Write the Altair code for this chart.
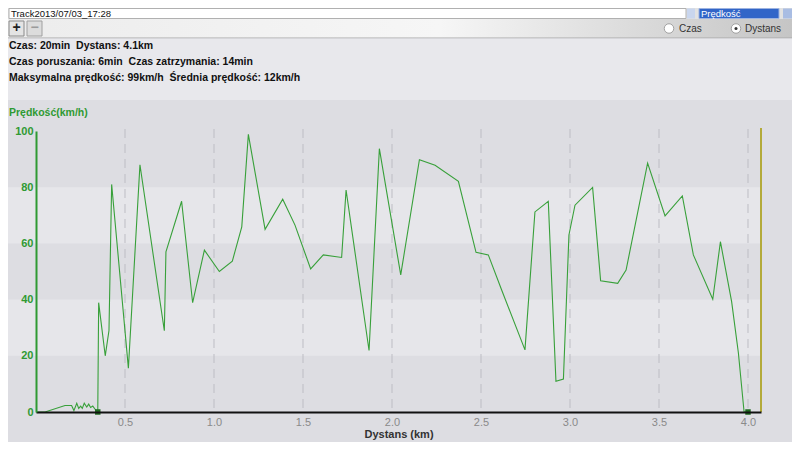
import altair as alt
import pandas as pd

# ---------------- data ----------------
distance_km = [0.0, 0.051, 0.163, 0.200, 0.213, 0.229, 0.240, 0.251, 0.260, 0.271,
               0.285, 0.296, 0.307, 0.319, 0.333, 0.347, 0.352, 0.389, 0.410, 0.425,
               0.519, 0.584, 0.721, 0.730, 0.818, 0.880, 0.946, 1.030, 1.103, 1.156,
               1.193, 1.287, 1.386, 1.455, 1.543, 1.614, 1.717, 1.742, 1.871, 1.929,
               2.049, 2.154, 2.242, 2.373, 2.472, 2.541, 2.616, 2.747, 2.803, 2.878,
               2.921, 2.963, 2.994, 3.028, 3.127, 3.172, 3.268, 3.315, 3.436, 3.534,
               3.631, 3.693, 3.802, 3.845, 3.908, 3.946, 3.978, 4.000]
speed_kmh = [0.0, 0.0, 2.3, 2.3, 0.5, 3.1, 1.3, 2.1, 1.3, 3.1,
             1.8, 2.8, 1.6, 2.1, 0.9, 0.0, 38.9, 20.0, 29.0, 81.0,
             15.6, 88.0, 28.9, 57.0, 75.0, 38.9, 57.6, 50.0, 53.7, 65.9,
             98.8, 65.0, 75.7, 66.5, 50.9, 55.9, 55.0, 79.0, 21.9, 93.7,
             48.8, 89.8, 87.8, 82.1, 56.8, 55.9, 43.4, 22.1, 71.2, 75.0,
             10.9, 11.7, 63.0, 73.6, 79.9, 46.7, 45.8, 50.5, 88.6, 69.8,
             76.9, 55.9, 40.1, 60.6, 39.3, 21.0, 0.0, 0.0]
stop_marker_km = [0.347, 4.0]
stop_marker_speed = [0, 0]
cursor_km = [4.073]
x_tick_values = [0.5, 1.0, 1.5, 2.0, 2.5, 3.0, 3.5, 4.0]
y_tick_values = [0, 20, 40, 60, 80, 100]
band_from = [20, 60]
band_to = [40, 80]
X_MAX = 4.073

track_name = "Track2013/07/03_17:28"
mode_name = "Prędkość"
radio_labels = ["Czas", "Dystans"]
info_lines = [
    "Czas: 20min\u00a0 Dystans: 4.1km",
    "Czas poruszania: 6min\u00a0 Czas zatrzymania: 14min",
    "Maksymalna prędkość: 99km/h\u00a0 Średnia prędkość: 12km/h",
]
y_title = "Prędkość(km/h)"
x_title = "Dystans (km)"

# ---------------- layout ----------------
TOTAL_W, TOTAL_H = 784, 434          # fits the 800x450 window with its 8px margins
W, H = 725, 281
PAD_L, PAD_T = 28, 123
FONT = "Liberation Sans"
GREEN = "#2f9a33"


def ux(X):
    return X - 8 - PAD_L


def uy(Y):
    return Y - 8 - PAD_T


one = pd.DataFrame({"k": [0]})


def box(x1, y1, x2, y2, fill, stroke=None):
    kw = dict(color=fill)
    if stroke:
        kw.update(stroke=stroke, strokeWidth=1)
    return alt.Chart(one).mark_rect(**kw).encode(
        x=alt.value(ux(x1)), x2=alt.value(ux(x2)),
        y=alt.value(uy(y1)), y2=alt.value(uy(y2)))


def label(text, X, Y, size, color, weight="normal", align="left"):
    return alt.Chart(one).mark_text(
        text=text, align=align, baseline="middle", fontSize=size, font=FONT,
        fontWeight=weight, color=color).encode(x=alt.value(ux(X)), y=alt.value(uy(Y)))


toolbar_fill = alt.Gradient(
    gradient="linear", x1=0, x2=1, y1=0, y2=0,
    stops=[alt.GradientStop(color="#ececec", offset=0),
           alt.GradientStop(color="#f6f6f6", offset=0.55),
           alt.GradientStop(color="#c4c4c4", offset=1)])

decor = [
    box(0, 0, 800, 19, "#e2e2e2"),
    box(0, 100, 800, 450, "#dddde2"),
    box(9, 8.5, 686, 18.5, "#ffffff", "#b0b0b0"),
    box(687, 8.5, 695, 18.5, "#c9d6ee"),
    box(699, 8.5, 779, 18.5, "#3165c8", "#9db3e0"),
    box(783, 8.5, 797, 18.5, "#a9bde3"),
    alt.Chart(one).mark_rect(color=toolbar_fill).encode(
        x=alt.value(ux(0)), x2=alt.value(ux(800)), y=alt.value(uy(19)), y2=alt.value(uy(38))),
    box(0, 37.5, 800, 38.5, "#a9a9a9"),
    box(0, 38.5, 800, 100, "#e8e8ec"),
    box(9, 21, 24, 36, "#e4e4e4", "#8a8a8a"),
    box(27, 21, 42, 36, "#dcdcdc", "#a0a0a0"),
]

# background bands
bands = alt.Chart(pd.DataFrame({"lo": band_from, "hi": band_to})).mark_rect(
    color="#e6e6ea").encode(
    x=alt.value(ux(8)), x2=alt.value(W),
    y=alt.Y("lo:Q", scale=alt.Scale(domain=[0, 100], nice=False)),
    y2="hi:Q")

x_scale = alt.Scale(domain=[0, X_MAX], nice=False, zero=False)
y_scale = alt.Scale(domain=[0, 100], nice=False)

x_axis = alt.Axis(values=x_tick_values, format=".1f", grid=False, ticks=False,
                  domainColor="#111111", domainWidth=2, labelColor="#8a8a8a",
                  labelFont=FONT, labelFontSize=11, labelPadding=4,
                  titleFont=FONT, titleFontSize=11, titleFontWeight="bold",
                  titleColor="#333333", titlePadding=1, zindex=1)
y_axis = alt.Axis(values=y_tick_values, grid=False, ticks=False,
                  domainColor=GREEN, domainWidth=2, labelColor=GREEN,
                  labelFont=FONT, labelFontSize=11, labelFontWeight="bold",
                  labelPadding=3, zindex=1)

grid = alt.Chart(pd.DataFrame({"t": x_tick_values})).mark_rule(
    color="#bdbdc4", strokeDash=[9, 6], strokeWidth=1).encode(
    x=alt.X("t:Q", scale=x_scale, axis=x_axis, title=x_title),
    y=alt.value(-2), y2=alt.value(H))

df = pd.DataFrame({"km": distance_km, "speed": speed_kmh})
line = alt.Chart(df).mark_line(color="#38a03a", strokeWidth=1.1).encode(
    x=alt.X("km:Q", scale=x_scale, axis=x_axis, title=x_title),
    y=alt.Y("speed:Q", scale=y_scale, axis=y_axis, title=""))

markers = alt.Chart(pd.DataFrame({"km": stop_marker_km, "speed": stop_marker_speed})).mark_square(
    size=30, color="#1d6b1f", opacity=1).encode(
    x=alt.X("km:Q", scale=x_scale, axis=x_axis, title=x_title),
    y=alt.Y("speed:Q", scale=y_scale, axis=y_axis, title=""))

cursor = alt.Chart(pd.DataFrame({"km": cursor_km})).mark_rule(
    color="#b3aa3a", strokeWidth=2).encode(
    x=alt.X("km:Q", scale=x_scale, axis=x_axis, title=x_title),
    y=alt.value(-3), y2=alt.value(H))

radios = [
    alt.Chart(one).mark_point(shape="circle", filled=True, fill="#ffffff", stroke="#a0a0a0",
                              strokeWidth=1, size=90, opacity=1).encode(
        x=alt.value(ux(669)), y=alt.value(uy(28.5))),
    alt.Chart(one).mark_point(shape="circle", filled=True, fill="#ffffff", stroke="#a0a0a0",
                              strokeWidth=1, size=90, opacity=1).encode(
        x=alt.value(ux(736)), y=alt.value(uy(28.5))),
    alt.Chart(one).mark_circle(size=9, color="#333333", opacity=1).encode(
        x=alt.value(ux(736)), y=alt.value(uy(28.5))),
]

texts = [
    label(track_name, 11, 13.5, 9.5, "#111111"),
    label(mode_name, 701, 13.5, 9.5, "#ffffff"),
    label("+", 16.5, 28, 14, "#222222", "bold", "center"),
    label("\u2212", 34.5, 28, 14, "#9a9a9a", "bold", "center"),
    label(radio_labels[0], 679, 28.5, 10, "#333333"),
    label(radio_labels[1], 745, 28.5, 10, "#333333"),
    label(info_lines[0], 9, 46, 10.5, "#111111", "bold"),
    label(info_lines[1], 9, 62, 10.5, "#111111", "bold"),
    label(info_lines[2], 9, 78, 10.5, "#111111", "bold"),
    label(y_title, 9, 113, 10.5, GREEN, "bold"),
]

chart = alt.layer(
    *decor, bands, grid, line, markers, cursor, *radios, *texts
).properties(
    width=W, height=H,
    autosize=alt.AutoSizeParams(type="none"),
    padding={"left": PAD_L, "top": PAD_T,
             "right": TOTAL_W - PAD_L - W, "bottom": TOTAL_H - PAD_T - H},
).configure(background="#dddde2").configure_view(strokeWidth=0)

chart.save("out.html", embed_options={"renderer": "svg", "actions": False})
